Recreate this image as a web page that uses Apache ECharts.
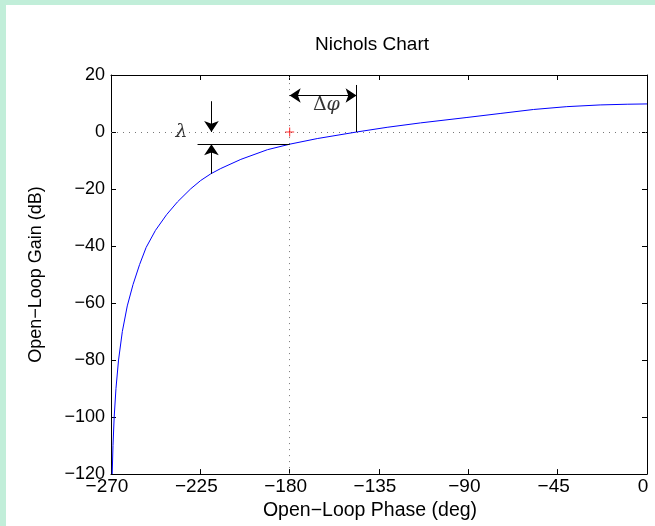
<!DOCTYPE html>
<html>
<head>
<meta charset="utf-8">
<script src="https://cdn.jsdelivr.net/npm/echarts@6/dist/echarts.min.js"></script>
<style>
  html, body { margin: 0; padding: 0; background: #c1eed9; }
  #nichols { position: absolute; left: 6px; top: 5px; width: 649px; height: 521px; background: #fff; }
</style>
</head>
<body>
<div id="nichols"></div>
<script>
// open-loop phase (deg) / gain (dB)
const phase = [-269.4, -269.0, -268.4, -267.5, -266.2, -264.3, -261.8, -258.9, -255.6, -252.3, -247.6,
  -242.0, -236.5, -229.8, -224.8, -219.7, -214.7, -204.6, -191.2, -179.85, -166.1, -146.3, -130.9,
  -114.1, -90.7, -74, -57.2, -40.4, -23.6, -10, 0];
const gain = [-120, -110, -100, -90, -80, -70, -61, -53.5, -46.5, -40.5, -34.5,
  -29.0, -24.5, -19.9, -17.0, -14.65, -12.8, -9.6, -6.2, -4.25, -2.3, 0, 1.65,
  3.2, 5.1, 6.5, 7.9, 8.9, 9.5, 9.75, 9.85];

const phaseTicks = [-270, -225, -180, -135, -90, -45, 0];
const gainTicks = [-120, -100, -80, -60, -40, -20, 0, 20];

// critical point and margin annotations
const critical = [-180, 0];
const gmPhase = -219.4;      // where the λ arrows sit
const gmGain = -4.25;        // gain at -180 deg
const gmLineStart = -226.4;
const gmArrowTop = 10.8;
const gmArrowBottom = -14.65;
const pmPhase = -146.3;      // 0 dB crossing
const pmLineTop = 16.5;
const pmArrowGain = 12.8;
const lambdaPos = [-234.5, 0];
const phiPos = [-161.5, 9.4];

const font = "'Liberation Sans', Arial, sans-serif";
const minus = (v) => String(v).replace("-", "\u2212");

const chart = echarts.init(document.getElementById("nichols"));

const axisCommon = {
  axisLine: { show: true, onZero: false, lineStyle: { color: "#000", width: 1 } },
  axisTick: { show: true, inside: true, length: 5, lineStyle: { color: "#000" } },
  splitLine: { show: false },
};

chart.setOption({
  animation: false,
  title: {
    text: "Nichols Chart",
    left: 361,
    top: 25,
    textAlign: "center",
    textStyle: { fontFamily: font, fontSize: 19, fontWeight: "normal", color: "#000" },
  },
  grid: { left: 105, right: 8, top: 70, bottom: 48 },
  xAxis: [
    {
      ...axisCommon,
      type: "value",
      min: phaseTicks[0],
      max: phaseTicks[phaseTicks.length - 1],
      interval: 45,
      name: "Open\u2212Loop Phase (deg)",
      nameLocation: "middle",
      nameGap: 25,
      nameTextStyle: { fontFamily: font, fontSize: 19.5, color: "#000", padding: [0, 18, 0, 0] },
      axisLabel: {
        fontFamily: font, fontSize: 19, color: "#000", margin: 3,
        padding: [0, 8, 0, 0], formatter: minus,
      },
    },
    {
      ...axisCommon,
      type: "value",
      position: "top",
      min: phaseTicks[0],
      max: phaseTicks[phaseTicks.length - 1],
      interval: 45,
      axisLabel: { show: false },
    },
  ],
  yAxis: [
    {
      ...axisCommon,
      type: "value",
      min: gainTicks[0],
      max: gainTicks[gainTicks.length - 1],
      interval: 20,
      name: "Open\u2212Loop Gain (dB)",
      nameLocation: "middle",
      nameGap: 66,
      nameTextStyle: { fontFamily: font, fontSize: 18, color: "#000" },
      axisLabel: { fontFamily: font, fontSize: 18, color: "#000", margin: 6, formatter: minus },
    },
    {
      ...axisCommon,
      type: "value",
      position: "right",
      min: gainTicks[0],
      max: gainTicks[gainTicks.length - 1],
      interval: 20,
      axisLabel: { show: false },
    },
  ],
  series: [
    {
      // dotted reference lines through the critical point
      type: "line",
      data: [],
      silent: true,
      markLine: {
        symbol: "none",
        silent: true,
        label: { show: false },
        lineStyle: { color: "#777", width: 1, type: [1, 5] },
        data: [{ xAxis: critical[0] }, { yAxis: critical[1] }],
      },
    },
    {
      type: "line",
      data: phase.map((p, i) => [p, gain[i]]),
      showSymbol: false,
      lineStyle: { color: "#0000ff", width: 1 },
      z: 5,
    },
    {
      type: "scatter",
      data: [critical],
      symbol: "path://M0,4.4H10V5.6H0ZM4.4,0H5.6V10H4.4Z",
      symbolSize: 9,
      itemStyle: { color: "#ff0000" },
      z: 6,
    },
    {
      type: "lines",
      coordinateSystem: "cartesian2d",
      polyline: false,
      lineStyle: { color: "#000", width: 1, opacity: 1 },
      symbolSize: 11,
      z: 7,
      data: [
        { coords: [[gmLineStart, gmGain], [critical[0], gmGain]], symbol: ["none", "none"] },
        { coords: [[gmPhase, gmArrowTop], [gmPhase, critical[1]]], symbol: ["none", "arrow"] },
        { coords: [[gmPhase, gmArrowBottom], [gmPhase, gmGain]], symbol: ["none", "arrow"] },
        { coords: [[pmPhase, critical[1]], [pmPhase, pmLineTop]], symbol: ["none", "none"] },
        { coords: [[critical[0], pmArrowGain], [pmPhase, pmArrowGain]], symbol: ["arrow", "arrow"] },
      ],
    },
    {
      type: "scatter",
      symbolSize: 0,
      z: 8,
      data: [
        { value: lambdaPos, label: { formatter: "{i|\u03bb}" } },
        { value: phiPos, label: { formatter: "\u0394{i|\u03c6}" } },
      ],
      label: {
        show: true,
        position: "inside",
        fontFamily: "'DejaVu Serif', serif",
        fontSize: 19,
        color: "#000",
        rich: { i: { fontFamily: "'DejaVu Serif', serif", fontStyle: "italic", fontSize: 19, color: "#000" } },
      },
    },
  ],
});

window.addEventListener("resize", () => {
  chart.resize();
});
</script>
</body>
</html>
